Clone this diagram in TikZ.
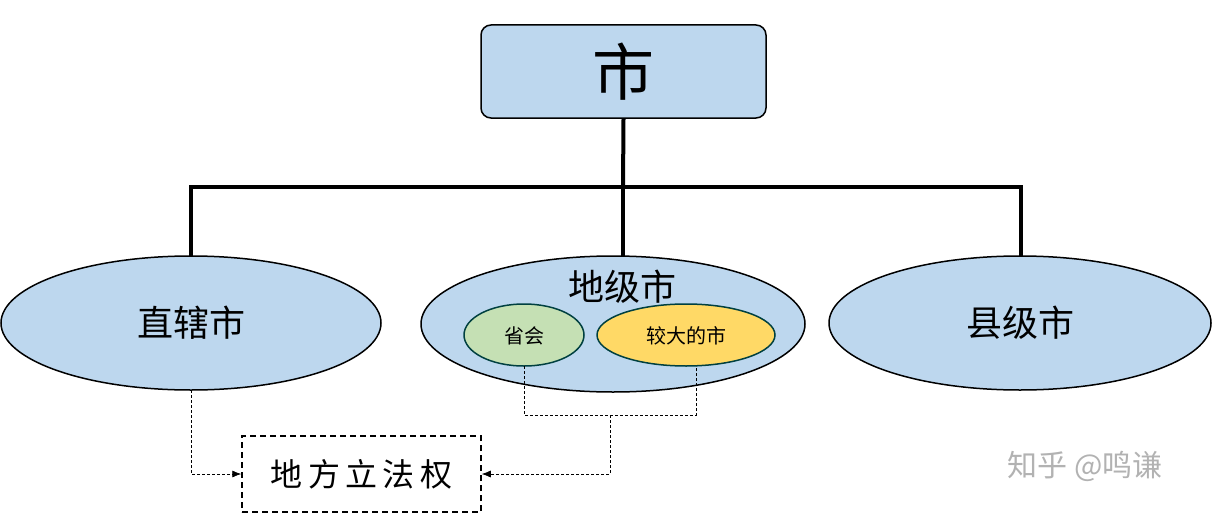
\documentclass[tikz,border=0pt]{standalone}
\usepackage{fontspec}
\setmainfont{Noto Sans CJK SC}
\usetikzlibrary{arrows.meta}
\definecolor{lb}{HTML}{BDD7EE}
\definecolor{gr}{HTML}{C5E0B4}
\definecolor{yl}{HTML}{FFD966}
\tikzset{
  big/.style={draw=black, line width=1.5pt, fill=lb},
  small/.style={draw=black!50!teal, line width=1.5pt},
  tree/.style={line width=4pt},
  dline/.style={dashed, line width=0.7pt, dash pattern=on 3pt off 2pt},
  darr/.style={dline, -{Latex[length=9pt,width=7pt]}}
}
\begin{document}
\begin{tikzpicture}[x=1pt,y=-1pt]
\useasboundingbox (0,0) rectangle (1212,519);
\node[draw, line width=1.5pt, fill=lb, rounded corners=10pt, minimum width=285pt, minimum height=93pt, font=\fontsize{62}{62}\selectfont] (top) at (623.5,71.5) {市};
\draw[big] (191,323) ellipse [x radius=190, y radius=67];
\draw[big] (613,324) ellipse [x radius=192, y radius=68];
\draw[big] (1020,323) ellipse [x radius=191, y radius=67];
\coordinate (zt) at (191,256);
\coordinate (dt) at (623,256);
\coordinate (xt) at (1021,256);
\node[font=\fontsize{36}{36}\selectfont] (z) at (191,323) {直辖市};
\node[font=\fontsize{36}{36}\selectfont] (d) at (622,287) {地级市};
\node[font=\fontsize{36}{36}\selectfont] (x) at (1020,323) {县级市};
\draw[small, fill=gr] (524,335) ellipse [x radius=60, y radius=31];
\draw[small, fill=yl] (686,335) ellipse [x radius=89, y radius=31];
\node[font=\fontsize{20}{20}\selectfont] (sh) at (524,336) {省会};
\node[font=\fontsize{20}{20}\selectfont] (jd) at (686,336) {较大的市};
\coordinate (shb) at (524,366);
\coordinate (jdb) at (696,366);
\coordinate (zb) at (191,390);
\node[draw, dashed, line width=1.5pt, dash pattern=on 6pt off 4pt, minimum width=239pt, minimum height=76pt, font=\fontsize{32}{32}\selectfont] (lf) at (361.5,474) {地\,方\,立\,法\,权};
\draw[tree] (top.south) -- (623,187);
\draw[tree] (191,187) -- (1021,187);
\draw[tree] (191,185) -- (zt);
\draw[tree] (623,185) -- (dt);
\draw[tree] (1021,185) -- (xt);
\draw[darr] (zb) |- (lf.west);
\draw[dline] (shb) -- (524,415) -| (jdb);
\draw[darr] (610,415) |- (lf.east);
\node[text=black!30, font=\fontsize{30}{30}\selectfont] (wm) at (1085,466) {知乎 @鸣谦};
\end{tikzpicture}
\end{document}
